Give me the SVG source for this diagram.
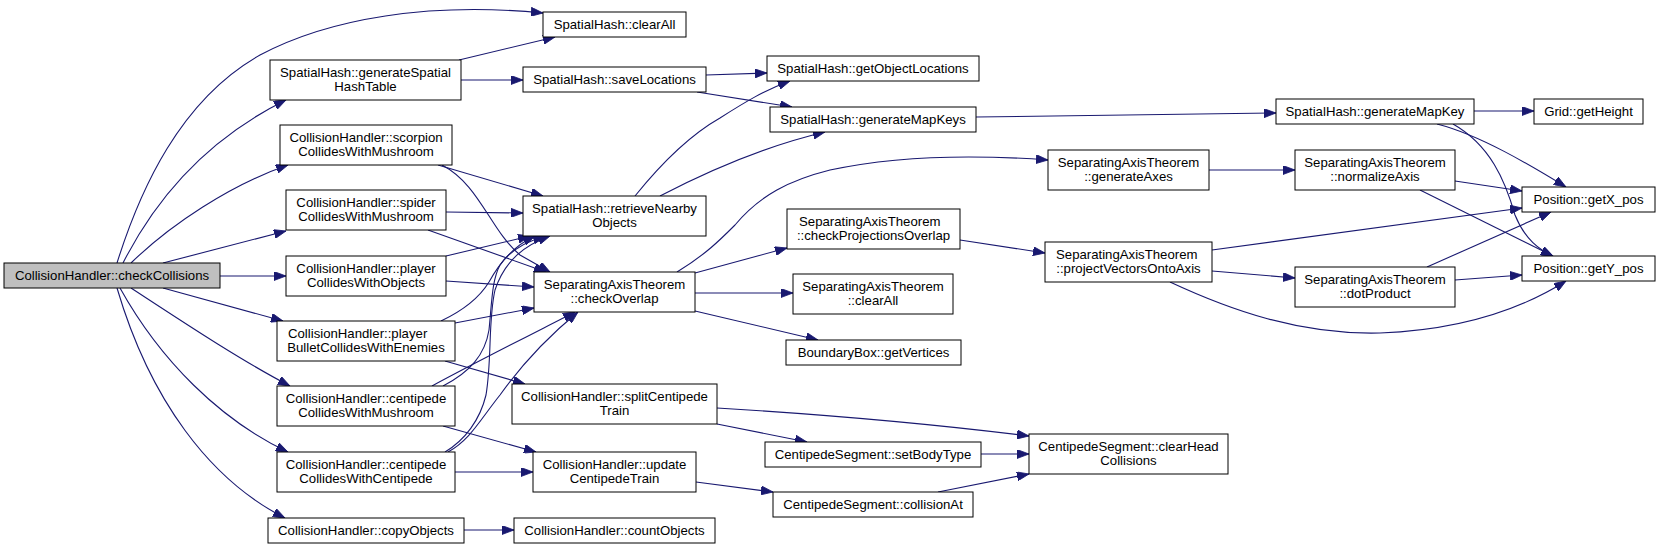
<svg xmlns="http://www.w3.org/2000/svg" width="1660" height="549" viewBox="0 0 1660 549">
<style>
.n rect{fill:#fff;stroke:#000;stroke-width:1}
.n.root rect{fill:#bfbfbf}
.n text{font-family:"Liberation Sans",Arial,sans-serif;font-size:13.2px;fill:#000;text-anchor:middle}
.n text.l{text-anchor:start}
.e path{fill:none;stroke:#191970;stroke-width:1.1;marker-end:url(#ah)}
</style>
<defs>
<marker id="ah" viewBox="0 0 12 9" refX="12" refY="4.5" markerWidth="12" markerHeight="9" markerUnits="userSpaceOnUse" orient="auto">
<path d="M0,0 L12,4.5 L0,9 z" fill="#191970" stroke="#191970" stroke-width="0.8"/>
</marker>
</defs>
<rect width="1660" height="549" fill="#fff"/>
<g id="edges" class="e">
<path d="M117,263 C140,190 180,100 260,55 C330,18 430,2 543,13"/>
<path d="M123,263 C160,190 215,135 286,100"/>
<path d="M131,263 C170,225 230,185 288,165"/>
<path d="M163,263 L286,231"/>
<path d="M220,276 L286,276"/>
<path d="M163,288 L283,321"/>
<path d="M131,288 C180,320 240,360 290,386"/>
<path d="M120,288 C160,360 220,420 288,452"/>
<path d="M117,288 C150,400 210,480 285,518"/>
<path d="M459,60 L555,37"/>
<path d="M461,80 L523,80"/>
<path d="M438,165 L543,196"/>
<path d="M442,165 C480,185 490,230 520,255 L550,272"/>
<path d="M446,212 L523,213"/>
<path d="M428,230 L546,272"/>
<path d="M446,256 L530,236"/>
<path d="M446,281 L534,287"/>
<path d="M441,321 C460,312 478,300 489,282 C500,262 515,245 535,236"/>
<path d="M455,323 L534,308"/>
<path d="M445,361 L525,384"/>
<path d="M443,386 C470,372 485,355 489,330 C492,300 492,280 500,265 C510,250 525,242 545,236"/>
<path d="M432,386 C480,360 540,330 575,312"/>
<path d="M443,426 L536,452"/>
<path d="M445,452 C465,440 480,420 486,395 C492,360 488,320 495,290 C505,260 525,245 550,236"/>
<path d="M448,452 C470,440 480,420 500,395 C525,360 550,335 578,312"/>
<path d="M455,472 L533,472"/>
<path d="M464,530 L514,530"/>
<path d="M635,196 C660,165 690,135 720,118 C745,102 765,90 790,81"/>
<path d="M660,196 C710,170 770,145 825,132"/>
<path d="M677,272 C705,255 720,240 735,225 C760,195 790,180 830,170 C900,155 980,155 1048,160"/>
<path d="M695,273 L787,248"/>
<path d="M695,293 L793,293"/>
<path d="M695,311 L818,340"/>
<path d="M706,75 L767,73"/>
<path d="M697,92 L792,107"/>
<path d="M976,117 L1276,113"/>
<path d="M960,240 L1045,253"/>
<path d="M717,408 C800,413 900,420 1029,436"/>
<path d="M717,424 L807,442"/>
<path d="M696,482 L773,492"/>
<path d="M981,454 L1029,454"/>
<path d="M938,492 L1029,474"/>
<path d="M1209,170 L1295,170"/>
<path d="M1212,250 L1522,208"/>
<path d="M1212,271 L1295,278"/>
<path d="M1170,282 C1230,310 1300,335 1380,333 C1460,330 1520,310 1566,281"/>
<path d="M1455,181 L1522,191"/>
<path d="M1420,190 L1553,256"/>
<path d="M1427,267 L1551,212"/>
<path d="M1455,280 L1522,275"/>
<path d="M1474,111 L1534,111"/>
<path d="M1437,124 C1480,135 1530,165 1566,187"/>
<path d="M1453,124 C1490,145 1505,180 1515,215 C1525,240 1540,250 1553,256"/>
</g>
<g id="n1" class="n root"><rect x="4" y="263" width="216" height="25"/><text x="112" y="280">CollisionHandler::checkCollisions</text></g>
<g id="n2" class="n"><rect x="270" y="60" width="191" height="40"/><text x="365.5" y="77">SpatialHash::generateSpatial</text><text x="365.5" y="91">HashTable</text></g>
<g id="n3" class="n"><rect x="280" y="125" width="172" height="40"/><text x="366" y="142">CollisionHandler::scorpion</text><text x="366" y="156">CollidesWithMushroom</text></g>
<g id="n4" class="n"><rect x="286" y="190" width="160" height="40"/><text x="366" y="207">CollisionHandler::spider</text><text x="366" y="221">CollidesWithMushroom</text></g>
<g id="n5" class="n"><rect x="286" y="256" width="160" height="40"/><text x="366" y="273">CollisionHandler::player</text><text x="366" y="287">CollidesWithObjects</text></g>
<g id="n6" class="n"><rect x="277" y="321" width="178" height="40"/><text class="l" x="288" y="338">CollisionHandler::player</text><text x="366" y="352">BulletCollidesWithEnemies</text></g>
<g id="n7" class="n"><rect x="277" y="386" width="178" height="40"/><text x="366" y="403">CollisionHandler::centipede</text><text x="366" y="417">CollidesWithMushroom</text></g>
<g id="n8" class="n"><rect x="277" y="452" width="178" height="40"/><text x="366" y="469">CollisionHandler::centipede</text><text x="366" y="483">CollidesWithCentipede</text></g>
<g id="n9" class="n"><rect x="268" y="518" width="196" height="25"/><text x="366" y="535">CollisionHandler::copyObjects</text></g>
<g id="n10" class="n"><rect x="543" y="12" width="143" height="25"/><text x="614.5" y="29">SpatialHash::clearAll</text></g>
<g id="n11" class="n"><rect x="523" y="67" width="183" height="25"/><text x="614.5" y="84">SpatialHash::saveLocations</text></g>
<g id="n12" class="n"><rect x="523" y="196" width="183" height="40"/><text x="614.5" y="213">SpatialHash::retrieveNearby</text><text x="614.5" y="227">Objects</text></g>
<g id="n13" class="n"><rect x="534" y="272" width="161" height="40"/><text x="614.5" y="289">SeparatingAxisTheorem</text><text x="614.5" y="303">::checkOverlap</text></g>
<g id="n14" class="n"><rect x="512" y="384" width="205" height="40"/><text x="614.5" y="401">CollisionHandler::splitCentipede</text><text x="614.5" y="415">Train</text></g>
<g id="n15" class="n"><rect x="533" y="452" width="163" height="40"/><text x="614.5" y="469">CollisionHandler::update</text><text x="614.5" y="483">CentipedeTrain</text></g>
<g id="n16" class="n"><rect x="514" y="518" width="201" height="25"/><text x="614.5" y="535">CollisionHandler::countObjects</text></g>
<g id="n17" class="n"><rect x="767" y="56" width="212" height="25"/><text x="873" y="73">SpatialHash::getObjectLocations</text></g>
<g id="n18" class="n"><rect x="770" y="107" width="206" height="25"/><text x="873" y="124">SpatialHash::generateMapKeys</text></g>
<g id="n19" class="n"><rect x="787" y="209" width="173" height="40"/><text class="l" x="799" y="226">SeparatingAxisTheorem</text><text x="873.5" y="240">::checkProjectionsOverlap</text></g>
<g id="n20" class="n"><rect x="793" y="274" width="160" height="40"/><text x="873" y="291">SeparatingAxisTheorem</text><text x="873" y="305">::clearAll</text></g>
<g id="n21" class="n"><rect x="786" y="340" width="175" height="25"/><text x="873.5" y="357">BoundaryBox::getVertices</text></g>
<g id="n22" class="n"><rect x="765" y="442" width="216" height="25"/><text x="873" y="459">CentipedeSegment::setBodyType</text></g>
<g id="n23" class="n"><rect x="773" y="492" width="200" height="25"/><text x="873" y="509">CentipedeSegment::collisionAt</text></g>
<g id="n24" class="n"><rect x="1048" y="150" width="161" height="40"/><text x="1128.5" y="167">SeparatingAxisTheorem</text><text x="1128.5" y="181">::generateAxes</text></g>
<g id="n25" class="n"><rect x="1045" y="242" width="167" height="40"/><text class="l" x="1056" y="259">SeparatingAxisTheorem</text><text x="1128.5" y="273">::projectVectorsOntoAxis</text></g>
<g id="n26" class="n"><rect x="1029" y="434" width="199" height="40"/><text x="1128.5" y="451">CentipedeSegment::clearHead</text><text x="1128.5" y="465">Collisions</text></g>
<g id="n27" class="n"><rect x="1276" y="99" width="198" height="25"/><text x="1375" y="116">SpatialHash::generateMapKey</text></g>
<g id="n28" class="n"><rect x="1295" y="150" width="160" height="40"/><text x="1375" y="167">SeparatingAxisTheorem</text><text x="1375" y="181">::normalizeAxis</text></g>
<g id="n29" class="n"><rect x="1295" y="267" width="160" height="40"/><text x="1375" y="284">SeparatingAxisTheorem</text><text x="1375" y="298">::dotProduct</text></g>
<g id="n30" class="n"><rect x="1534" y="99" width="109" height="25"/><text x="1588.5" y="116">Grid::getHeight</text></g>
<g id="n31" class="n"><rect x="1522" y="187" width="133" height="25"/><text x="1588.5" y="204">Position::getX_pos</text></g>
<g id="n32" class="n"><rect x="1522" y="256" width="133" height="25"/><text x="1588.5" y="273">Position::getY_pos</text></g>
</svg>
